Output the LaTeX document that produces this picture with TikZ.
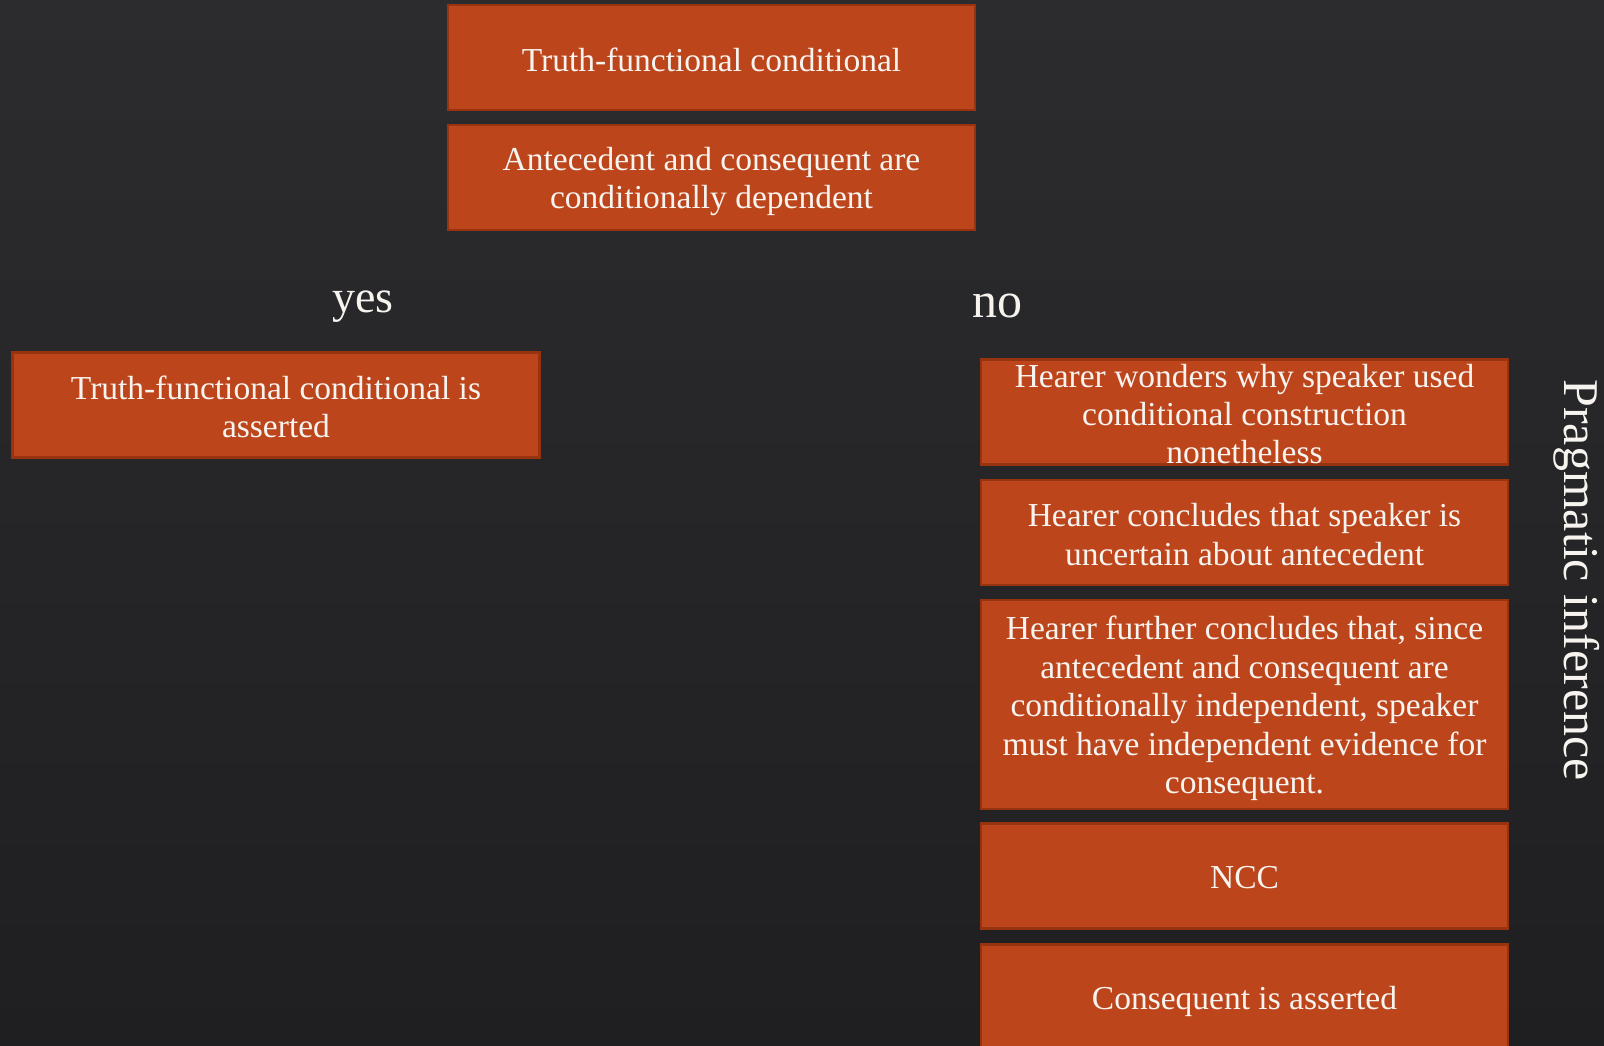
\documentclass[tikz,border=0pt]{standalone}
\usepackage{fontspec}
\setmainfont{Liberation Serif}
\definecolor{bgtop}{HTML}{2C2C2E}
\definecolor{bgbot}{HTML}{1F1F21}
\definecolor{boxfill}{HTML}{BC451C}
\definecolor{boxedge}{HTML}{97340F}
\definecolor{txt}{HTML}{F7F4F0}
\tikzset{
  stepbox/.style={rectangle, draw=boxedge, fill=boxfill, line width=2.5pt,
    minimum width=527pt, minimum height=105pt, inner sep=0pt},
  tallbox/.style={stepbox, minimum height=209pt},
  boxtext/.style={inner sep=0pt, align=center, text=txt,
    font=\fontsize{33.5}{38.4}\selectfont, yshift=-4pt},
  branch/.style={text=txt, inner sep=0pt, anchor=base},
}
\begin{document}
\begin{tikzpicture}[x=1pt,y=-1pt]
\shade[top color=bgtop, bottom color=bgbot] (0,0) rectangle (1604,1045);
\useasboundingbox (0,0) rectangle (1604,1045);
\clip (0,0) rectangle (1604,1045);
\node[stepbox] (tfc) at (711.5,57.5) {};
\node[boxtext, yshift=2pt] (tfct) at (tfc.center) {Truth-functional conditional};
\node[stepbox] (dep) at (711.5,177.5) {};
\node[boxtext] (dept) at (dep.center) {Antecedent and consequent are\\conditionally dependent};
\node[branch, font=\fontsize{46}{50}\selectfont] (yes) at (363,312) {yes};
\node[branch, font=\fontsize{50}{54}\selectfont] (no) at (997,317) {no};
\node[stepbox] (tfa) at (276,405) {};
\node[boxtext, yshift=2pt] (tfat) at (tfa.center) {Truth-functional conditional is\\asserted};
\node[stepbox] (r1) at (1244.5,412) {};
\node[boxtext, yshift=2pt] (r1t) at (r1.center) {Hearer wonders why speaker used\\conditional construction\\nonetheless};
\node[stepbox] (r2) at (1244.5,532.5) {};
\node[boxtext, yshift=2pt] (r2t) at (r2.center) {Hearer concludes that speaker is\\uncertain about antecedent};
\node[tallbox] (r3) at (1244.5,704.5) {};
\node[boxtext] (r3t) at (r3.center) {Hearer further concludes that, since\\antecedent and consequent are\\conditionally independent, speaker\\must have independent evidence for\\consequent.};
\node[stepbox] (ncc) at (1244.5,876) {};
\node[boxtext, yshift=2pt] (ncct) at (ncc.center) {NCC};
\node[stepbox] (cons) at (1244.5,997) {};
\node[boxtext] (const) at (cons.center) {Consequent is asserted};
\node[text=txt, rotate=-90, inner sep=0pt, font=\fontsize{50}{54}\selectfont] (prag) at (1577,580) {Pragmatic inference};
\end{tikzpicture}
\end{document}
